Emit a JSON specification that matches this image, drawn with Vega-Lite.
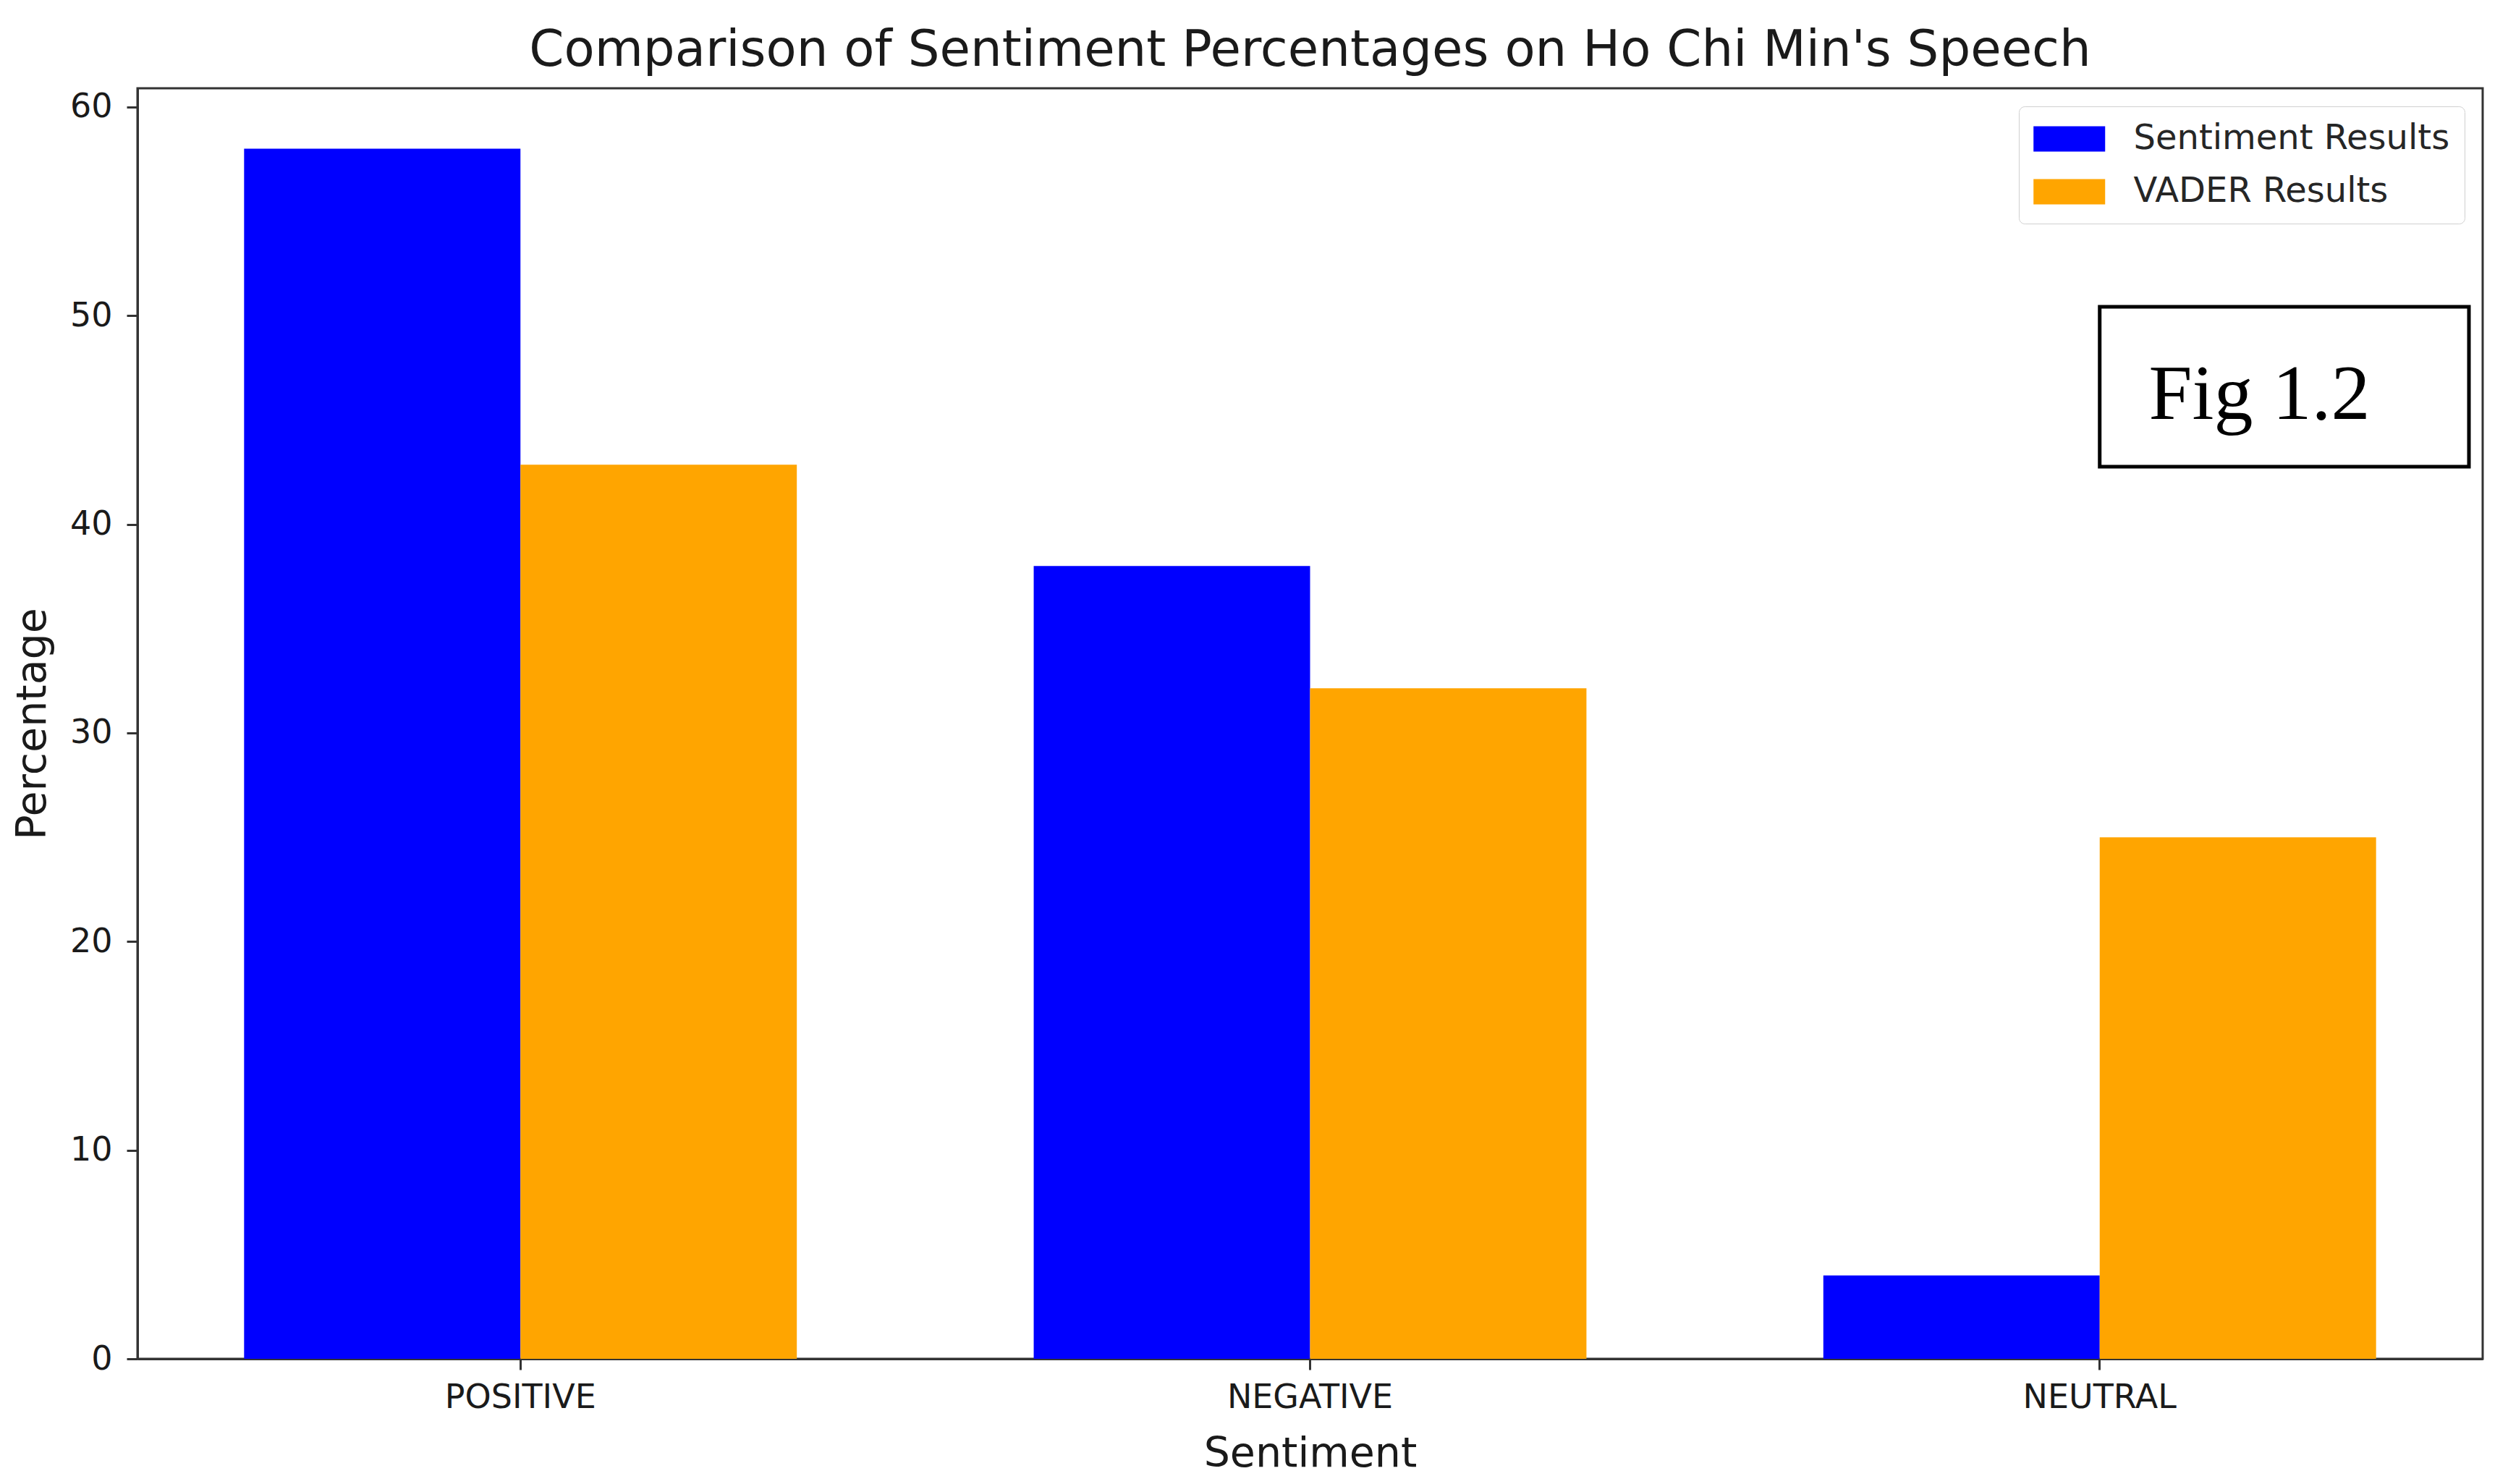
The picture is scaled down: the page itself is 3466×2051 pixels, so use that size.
{
  "$schema": "https://vega.github.io/schema/vega-lite/v6.json",
  "width": 3241,
  "height": 1756,
  "autosize": {"type": "none"},
  "padding": {"left": 190, "top": 122, "right": 35, "bottom": 173},
  "background": "white",
  "view": {"stroke": "#333333", "strokeWidth": 3},
  "title": {
    "text": "Comparison of Sentiment Percentages on Ho Chi Min's Speech",
    "font": "DejaVu Sans",
    "fontSize": 69,
    "fontWeight": "normal",
    "color": "#1a1a1a",
    "anchor": "middle",
    "offset": 17
  },
  "data": {
    "values": [
      {"sentiment": "POSITIVE", "series": "Sentiment Results", "percentage": 58},
      {"sentiment": "NEGATIVE", "series": "Sentiment Results", "percentage": 38},
      {"sentiment": "NEUTRAL", "series": "Sentiment Results", "percentage": 4},
      {"sentiment": "POSITIVE", "series": "VADER Results", "percentage": 42.86},
      {"sentiment": "NEGATIVE", "series": "VADER Results", "percentage": 32.14},
      {"sentiment": "NEUTRAL", "series": "VADER Results", "percentage": 25}
    ]
  },
  "layer": [
    {
      "mark": {"type": "bar"},
      "encoding": {
        "x": {
          "field": "sentiment",
          "type": "nominal",
          "sort": ["POSITIVE", "NEGATIVE", "NEUTRAL"],
          "scale": {"paddingInner": 0.3, "paddingOuter": 0.135},
          "axis": {
            "title": "Sentiment",
            "titleFont": "DejaVu Sans",
            "titleFontSize": 57,
            "titleFontWeight": "normal",
            "titleColor": "#1a1a1a",
            "titlePadding": 27,
            "labelFont": "DejaVu Sans",
            "labelFontSize": 46,
            "labelColor": "#1a1a1a",
            "labelAngle": 0,
            "labelPadding": 16,
            "labelLimit": 0,
            "tickSize": 15,
            "tickWidth": 3,
            "tickColor": "#333333",
            "domainColor": "#333333",
            "domainWidth": 3,
            "grid": false
          }
        },
        "xOffset": {
          "field": "series",
          "type": "nominal",
          "scale": {"paddingInner": 0, "paddingOuter": 0}
        },
        "y": {
          "field": "percentage",
          "type": "quantitative",
          "scale": {"domain": [0, 60.9], "nice": false},
          "axis": {
            "values": [0, 10, 20, 30, 40, 50, 60],
            "title": "Percentage",
            "titleFont": "DejaVu Sans",
            "titleFontSize": 57,
            "titleFontWeight": "normal",
            "titleColor": "#1a1a1a",
            "titlePadding": 22,
            "labelFont": "DejaVu Sans",
            "labelFontSize": 46,
            "labelColor": "#1a1a1a",
            "labelPadding": 20,
            "labelLimit": 0,
            "tickSize": 15,
            "tickWidth": 3,
            "tickColor": "#333333",
            "domainColor": "#333333",
            "domainWidth": 3,
            "grid": false
          }
        },
        "color": {
          "field": "series",
          "type": "nominal",
          "scale": {"domain": ["Sentiment Results", "VADER Results"], "range": ["#0000ff", "#ffa500"]},
          "legend": {
            "title": null,
            "orient": "top-right",
            "offset": 25,
            "padding": 20,
            "rowPadding": 24,
            "symbolType": "M-2,-0.707H2V0.707H-2Z",
            "symbolSize": 2450,
            "symbolOffset": 24.75,
            "symbolStrokeWidth": 0,
            "symbolOpacity": 1,
            "labelOffset": 63.75,
            "labelLimit": 0,
            "labelFont": "DejaVu Sans",
            "labelFontSize": 48,
            "labelColor": "#262626",
            "strokeColor": "#d0d0d0",
            "fillColor": "white",
            "cornerRadius": 8
          }
        }
      }
    },
    {
      "data": {"values": [{"label": "Fig 1.2"}]},
      "mark": {"type": "rect", "fill": "white", "stroke": "black", "strokeWidth": 5},
      "encoding": {
        "x": {"datum": "NEUTRAL", "type": "nominal", "bandPosition": 0.5},
        "x2": {"datum": "NEUTRAL", "bandPosition": 1.168},
        "y": {"datum": 42.76, "type": "quantitative"},
        "y2": {"datum": 50.43}
      }
    },
    {
      "data": {"values": [{"label": "Fig 1.2"}]},
      "mark": {"type": "text", "font": "Liberation Serif", "fontSize": 108, "align": "center", "baseline": "alphabetic", "color": "black"},
      "encoding": {
        "x": {"datum": "NEUTRAL", "type": "nominal", "bandPosition": 0.789},
        "y": {"datum": 45.05, "type": "quantitative"},
        "text": {"field": "label"}
      }
    }
  ]
}
